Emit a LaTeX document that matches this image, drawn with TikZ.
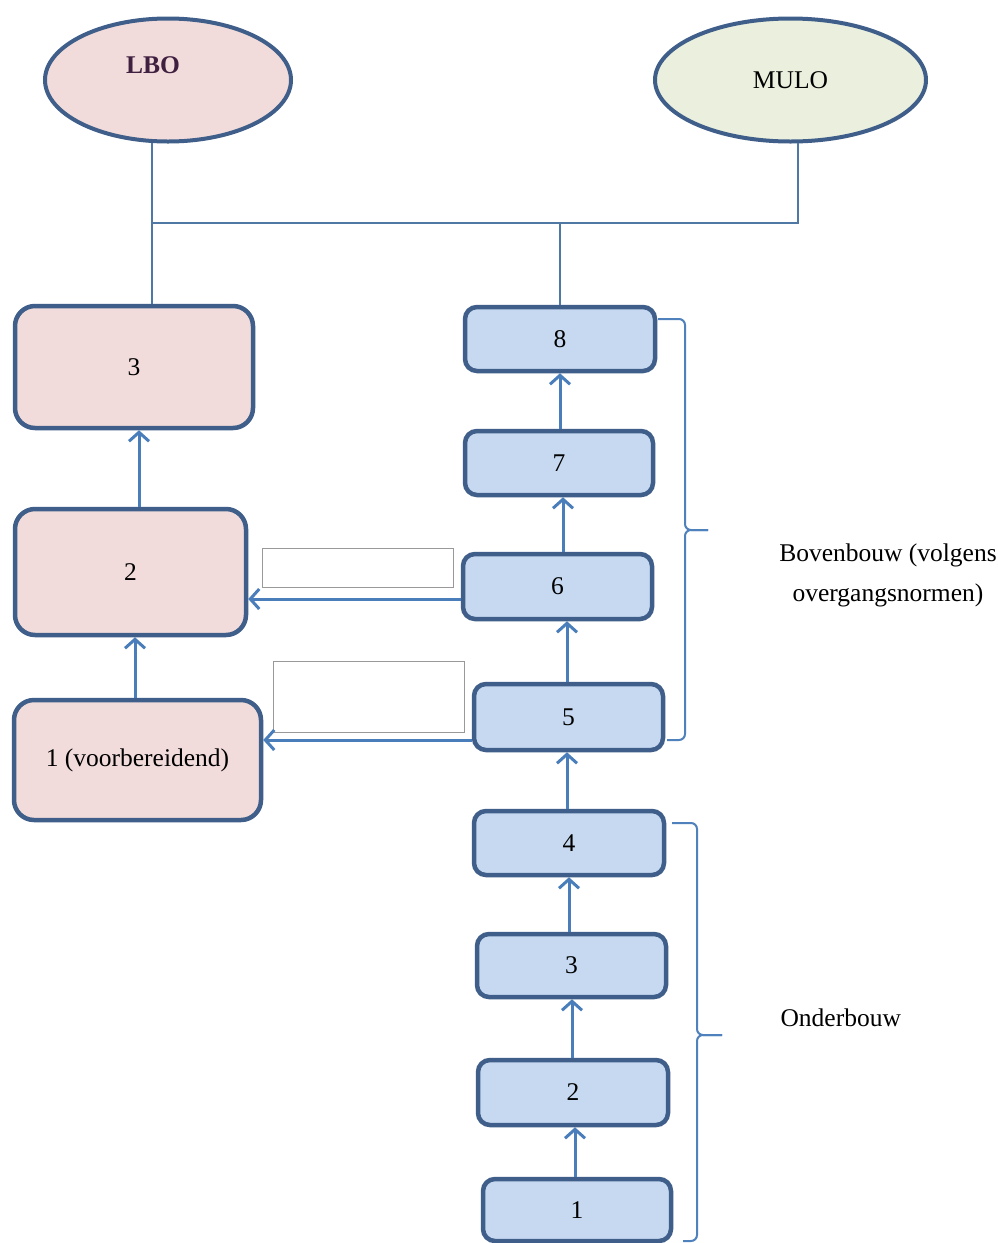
\documentclass[tikz,border=0pt]{standalone}
\usepackage{fontspec}
\setmainfont{Liberation Serif}
\usetikzlibrary{shapes.geometric,arrows.meta,calc}
\definecolor{bdr}{RGB}{63,95,138}
\definecolor{pinkfill}{RGB}{242,220,219}
\definecolor{bluefill}{RGB}{198,217,241}
\definecolor{greenfill}{RGB}{235,240,222}
\definecolor{arrblue}{RGB}{74,126,187}
\definecolor{connblue}{RGB}{79,120,165}
\definecolor{braceblue}{RGB}{79,129,189}
\definecolor{lbotext}{RGB}{64,32,64}
\begin{document}
\begin{tikzpicture}[x=1pt,y=-1pt,
  every node/.style={font=\fontsize{25.5}{40}\selectfont},
  pinkbox/.style={draw=bdr,line width=4.5pt,fill=pinkfill,rounded corners=20pt,inner sep=0pt},
  bluebox/.style={draw=bdr,line width=4.5pt,fill=bluefill,rounded corners=12pt,inner sep=0pt},
  oval/.style={ellipse,draw=bdr,line width=4pt,inner sep=0pt,minimum width=246pt,minimum height=123pt},
  arr/.style={draw=arrblue,line width=3pt,-{Straight Barb[length=9pt,width=20pt]}},
  conn/.style={draw=connblue,line width=2pt},
  braceline/.style={draw=braceblue,line width=2pt,rounded corners=6pt},
  blank/.style={draw=gray!80,line width=1pt,fill=white,inner sep=0pt}
]
\useasboundingbox[fill=white] (0,0) rectangle (998,1243);

% ellipses
\node[oval,fill=pinkfill,minimum width=246pt,
  label={[xshift=-15pt,yshift=15pt,text=lbotext,font=\fontsize{25.5}{30}\selectfont\bfseries]center:LBO}]
  (lbo) at (168,80) {};
\node[oval,fill=greenfill,minimum width=271pt] (mulo) at (790.5,80) {MULO};

% left column
\node[pinkbox,minimum width=238pt,minimum height=122pt] (lb3) at (134,367) {3};
\node[pinkbox,minimum width=231pt,minimum height=126pt] (lb2) at (130.5,572) {2};
\node[pinkbox,minimum width=247pt,minimum height=120pt] (lb1) at (137.5,760) {1 (voorbereidend)};

% right column
\node[bluebox,minimum width=190pt,minimum height=64pt] (b8) at (560,339) {8};
\node[bluebox,minimum width=188pt,minimum height=64pt] (b7) at (559,463) {7};
\node[bluebox,minimum width=189pt,minimum height=65pt] (b6) at (557.5,586.5) {6};
\node[bluebox,minimum width=189pt,minimum height=66pt] (b5) at (568.5,717) {5};
\node[bluebox,minimum width=190pt,minimum height=64pt] (b4) at (569,843) {4};
\node[bluebox,minimum width=189pt,minimum height=63pt] (b3) at (571.5,965.5) {3};
\node[bluebox,minimum width=190pt,minimum height=65pt] (b2) at (573,1092.5) {2};
\node[bluebox,minimum width=188pt,minimum height=62pt] (b1) at (577,1210) {1};

% blank boxes
\node[blank,minimum width=191pt,minimum height=39pt] (ra) at (357.5,567.5) {};
\node[blank,minimum width=191pt,minimum height=71pt] (rb) at (368.5,696.5) {};

% top connectors
\coordinate (bus) at (0,223);
\draw[conn] (lbo.256) -- (lbo.256 |- lb3.north);
\draw[conn] (lbo.256 |- bus) -- (mulo.277 |- bus) -- (mulo.277);
\draw[conn] (b8.north |- bus) -- (b8.north);

% vertical arrows
\draw[arr] (lb1.north -| 135,0) -- (lb2.south -| 135,0);
\draw[arr] (lb2.north -| 139,0) -- (lb3.south -| 139,0);
\draw[arr] (b1.north -| 575,0) -- (b2.south -| 575,0);
\draw[arr] (b2.north -| 572,0) -- (b3.south -| 572,0);
\draw[arr] (b3.north -| 569,0) -- (b4.south -| 569,0);
\draw[arr] (b4.north -| 567,0) -- (b5.south -| 567,0);
\draw[arr] (b5.north -| 567,0) -- (b6.south -| 567,0);
\draw[arr] (b6.north -| 563,0) -- (b7.south -| 563,0);
\draw[arr] (b7.north -| 560,0) -- (b8.south -| 560,0);

% horizontal arrows
\draw[arr] (b6.west |- 0,599) -- (lb2.east |- 0,599);
\draw[arr] (b5.west |- 0,740) -- (lb1.east |- 0,740);

% braces
\coordinate (ut) at (658,319);
\coordinate (ub) at (667,740);
\coordinate (utip) at (708,530);
\draw[braceline] (ut) -- (685,319) -- (685,530) -- (utip);
\draw[braceline] (utip) -- (685,530) -- (685,740) -- (ub);
\coordinate (lt) at (672,823);
\coordinate (lbt) at (683,1241);
\coordinate (ltip) at (722,1035);
\draw[braceline] (lt) -- (697,823) -- (697,1035) -- (ltip);
\draw[braceline] (ltip) -- (697,1035) -- (697,1241) -- (lbt);

% group labels
\node[align=center] (boven) at (888,575) {Bovenbouw (volgens\\overgangsnormen)};
\node[anchor=west] (onder) at (777,1018) {Onderbouw};
\end{tikzpicture}
\end{document}
